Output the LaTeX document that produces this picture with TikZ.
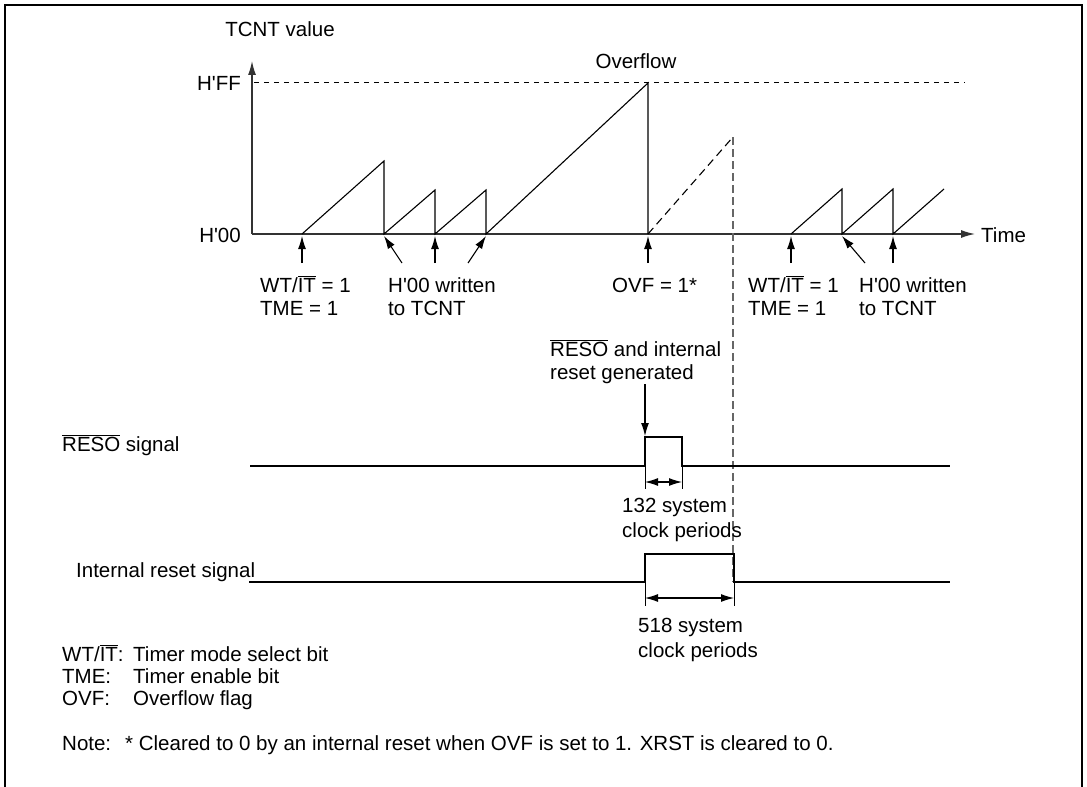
\documentclass[tikz,border=0pt]{standalone}
\usepackage{fontspec}
\setmainfont{Liberation Sans}[Ligatures=TeXOff]
\usetikzlibrary{arrows.meta}
\newcommand\ovl[1]{$\overline{\hbox{#1}}$}
\begin{document}
\begin{tikzpicture}[x=1bp,y=-1bp,
  every node/.style={font=\fontsize{20.5bp}{24bp}\selectfont, inner sep=0},
  lbl/.style={anchor=base west},
  lble/.style={anchor=base east},
  axisline/.style={line width=1.3bp, black!80},
  wave/.style={line width=1.1bp, line join=miter},
  ann/.style={line width=1.1bp, -{Latex[length=13bp,width=8bp]}},
  dimarr/.style={line width=1.1bp, {Latex[length=13bp,width=8bp]}-{Latex[length=13bp,width=8bp]}},
  tick/.style={line width=1bp},
  frame/.style={line width=2bp}
]
\useasboundingbox (0,0) rectangle (1087,787);
% frame
\draw[frame] (5,787) -- (5,5) -- (1082,5) -- (1082,787);

% axes
\coordinate (O) at (252,234);
\coordinate (Ytip) at (252,61);
\coordinate (Xtip) at (975,234);
\draw[axisline, -{Latex[length=14bp,width=8bp]}] (O) -- (Ytip);
\draw[axisline, -{Latex[length=14bp,width=8bp]}] (O) -- (Xtip);
\node[anchor=base] (tcnt) at (280,37) {TCNT value};
\node[lbl] (time) at (981,242) {Time};
\node[lble] (hff) at (241,91) {H'FF};
\node[lble] (h00) at (241,242) {H'00};
\node[anchor=base] (ovfl) at (636,69) {Overflow};

% H'FF level
\coordinate (ff1) at (254,83);
\coordinate (ff2) at (965,83);
\draw[line width=1bp, dash pattern=on 5bp off 5bp] (ff1) -- (ff2);

% sawtooth
\draw[wave] (302,234) -- (384,161) -- (384,234) -- (435,190) -- (435,234)
  -- (486,190) -- (486,234) -- (648,83) -- (648,234);
\draw[wave] (791,234) -- (842,189) -- (842,234) -- (893,189) -- (893,234) -- (944,189);
\coordinate (dpk) at (733,137);
\coordinate (dbot) at (733,582);
\draw[wave, dash pattern=on 8bp off 5bp] (648,234) -- (dpk);
\draw[line width=1.1bp, black!60, dash pattern=on 8bp off 4bp] (dpk) -- (dbot);

% annotation arrows
\foreach \n/\sx/\ex in {a/302/302, b/402/384, c/435/435, d/468/486, e/648/648, f/791/791, g/865/842, h/893/893}{
  \coordinate (\n s) at (\sx,263);
  \coordinate (\n e) at (\ex,236);
  \draw[ann] (\n s) -- (\n e);
}
\node[lbl] (t1) at (260,292) {WT/\ovl{IT} = 1};
\node[lbl] (t2) at (260,315) {TME = 1};
\node[lbl] (t3) at (388,292) {H'00 written};
\node[lbl] (t4) at (388,315) {to TCNT};
\node[lbl] (t5) at (612,292) {OVF = 1*};
\node[lbl] (t6) at (748,292) {WT/\ovl{IT} = 1};
\node[lbl] (t7) at (748,315) {TME = 1};
\node[lbl] (t8) at (859,292) {H'00 written};
\node[lbl] (t9) at (859,315) {to TCNT};

% RESO generated
\node[lbl] (g1) at (550,356) {\ovl{RESO} and internal};
\node[lbl] (g2) at (550,379) {reset generated};
\coordinate (gs) at (645,384);
\coordinate (ge) at (645,436);
\draw[ann] (gs) -- (ge);

% RESO signal
\node[lbl] (reso) at (62,451) {\ovl{RESO} signal};
\draw[wave] (250,466) -- (645,466) -- (645,437) -- (682,437) -- (682,466) -- (950,466);
\coordinate (r1) at (645,482);
\coordinate (r2) at (682,482);
\draw[tick] (645,466) -- (645,489);
\draw[tick] (682,466) -- (682,489);
\draw[dimarr] (r1) -- (r2);
\node[lbl] (c1) at (622,512) {132 system};
\node[lbl] (c2) at (622,537) {clock periods};

% internal reset signal
\node[lbl] (irs) at (76,577) {Internal reset signal};
\draw[wave] (249,582) -- (645,582) -- (645,554) -- (734,554) -- (734,582) -- (950,582);
\coordinate (i1) at (645,598);
\coordinate (i2) at (734,598);
\draw[tick] (645,582) -- (645,606);
\draw[tick] (734,582) -- (734,606);
\draw[dimarr] (i1) -- (i2);
\node[lbl] (c3) at (638,632) {518 system};
\node[lbl] (c4) at (638,657) {clock periods};

% legend
\node[lbl] (l1) at (62,661) {WT/\ovl{IT}:};
\node[lbl] (l1b) at (133,661) {Timer mode select bit};
\node[lbl] (l2) at (62,683) {TME:};
\node[lbl] (l2b) at (133,683) {Timer enable bit};
\node[lbl] (l3) at (62,705) {OVF:};
\node[lbl] (l3b) at (133,705) {Overflow flag};
\node[lbl] (n1) at (62,750) {Note:};
\node[lbl] (n2) at (125,750) {* Cleared to 0 by an internal reset when OVF is set to 1. XRST is cleared to 0.};
\end{tikzpicture}
\end{document}
